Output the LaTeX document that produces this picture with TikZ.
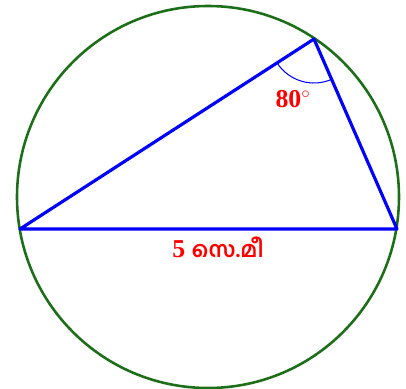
\documentclass[tikz,border=0pt]{standalone}
\usepackage{fontspec}
\setmainfont{Liberation Serif}
\newfontfamily\mlfont[Script=Malayalam,Scale=0.85]{Hind Kochi}
\usetikzlibrary{angles}
\definecolor{circgreen}{RGB}{28,110,24}

\begin{document}
\begin{tikzpicture}[
    x=0.03cm, y=-0.03cm,
    rim/.style={draw=circgreen, line width=2.2pt},
    side/.style={draw=blue, line width=2.7pt, line join=round},
    lbl/.style={text=red, font=\bfseries\fontsize{22}{24}\selectfont}
]
\useasboundingbox (0,0) rectangle (406,389);
\coordinate (O) at (208,197);
\coordinate (A) at (20,229);
\coordinate (B) at (397,229);
\coordinate (C) at (314,39);

\draw[rim] (O) circle[radius=191*0.03cm];
\draw[side] (A) -- (C) -- (B) -- cycle;
\pic[draw=blue, line width=0.9pt, angle radius=44*0.03cm] {angle=A--C--B};

\node[lbl] (ang) at (293,99) {80$^{\circ}$};
\node[lbl] (len) at (218,247) {5 {\mlfont സെ.മീ}};
\end{tikzpicture}
\end{document}
